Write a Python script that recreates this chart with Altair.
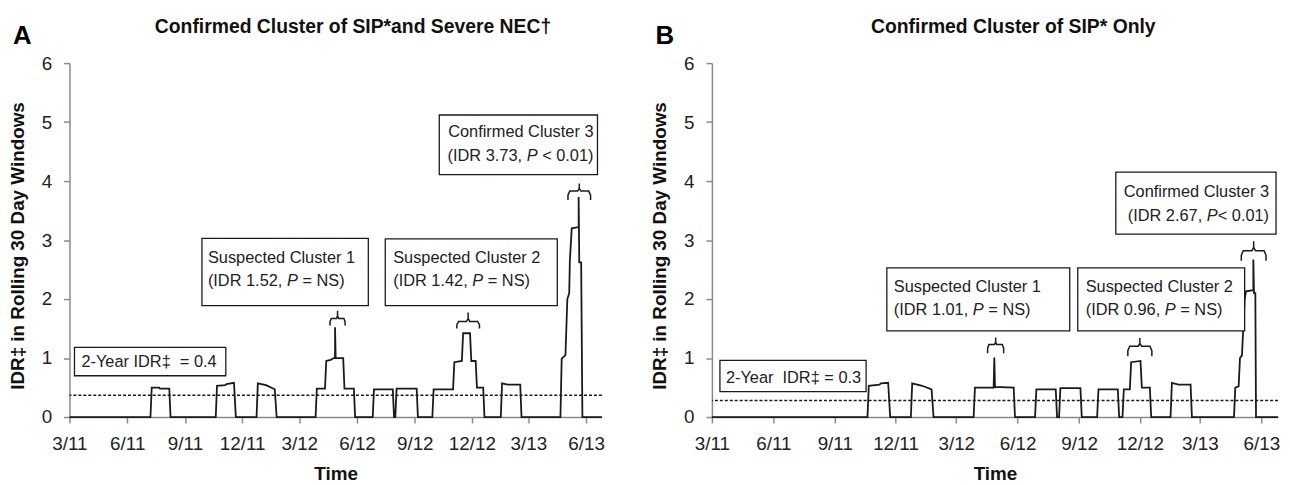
import altair as alt
import pandas as pd

FONT = "Liberation Sans"
INK = "#1a1a1a"

# ---------------- data ----------------
tick_months = [(2011, 3), (2011, 6), (2011, 9), (2011, 12), (2012, 3), (2012, 6),
               (2012, 9), (2012, 12), (2013, 3), (2013, 6)]
x_start = (2011, 3, 1)
x_end = (2013, 6, 26)

a_dates = ["2011-03-01",
           "2011-07-08", "2011-07-10", "2011-07-22", "2011-07-23", "2011-08-07", "2011-08-09",
           "2011-10-20", "2011-10-22", "2011-11-04", "2011-11-06", "2011-11-18", "2011-11-21",
           "2011-12-24", "2011-12-26", "2012-01-08", "2012-01-22", "2012-01-25",
           "2012-03-27", "2012-03-29", "2012-04-11", "2012-04-13", "2012-04-20", "2012-04-25",
           "2012-04-27", "2012-04-27", "2012-04-28", "2012-05-10", "2012-05-12", "2012-05-27", "2012-05-29",
           "2012-06-26", "2012-06-28", "2012-07-28", "2012-07-30", "2012-08-01", "2012-08-03", "2012-09-04", "2012-09-06",
           "2012-09-29", "2012-10-01", "2012-11-01", "2012-11-03", "2012-11-15", "2012-11-17", "2012-11-28",
           "2012-11-30", "2012-12-07", "2012-12-09", "2012-12-19", "2012-12-21",
           "2013-01-16", "2013-01-18", "2013-01-27", "2013-02-16", "2013-02-18",
           "2013-04-21", "2013-04-23", "2013-04-29", "2013-05-02", "2013-05-05", "2013-05-06", "2013-05-09",
           "2013-05-20", "2013-05-20", "2013-05-21", "2013-05-24", "2013-05-26",
           "2013-06-26"]
a_vals = [0,
          0, 0.50, 0.50, 0.48, 0.48, 0,
          0, 0.53, 0.54, 0.56, 0.58, 0,
          0, 0.57, 0.54, 0.47, 0,
          0, 0.48, 0.48, 0.95, 0.97, 1.0,
          1.0, 1.52, 1.0, 1.0, 0.48, 0.48, 0,
          0, 0.47, 0.47, 0, 0, 0.48, 0.48, 0,
          0, 0.47, 0.47, 0.93, 0.95, 1.42, 1.42,
          0.95, 0.95, 0.50, 0.50, 0,
          0, 0.57, 0.55, 0.55, 0,
          0, 0.99, 1.05, 2.0, 2.1, 2.65, 3.2,
          3.22, 3.73, 2.62, 2.62, 0,
          0]

b_dates = ["2011-03-01",
           "2011-10-20", "2011-10-22", "2011-11-07", "2011-11-09", "2011-11-20", "2011-11-23",
           "2011-12-24", "2011-12-26", "2012-01-10", "2012-01-24", "2012-01-27",
           "2012-03-27", "2012-03-29", "2012-04-26", "2012-04-27", "2012-04-28", "2012-05-26", "2012-05-28",
           "2012-06-27", "2012-06-29", "2012-07-28", "2012-07-30", "2012-08-02", "2012-08-04", "2012-09-03", "2012-09-05",
           "2012-09-28", "2012-09-30", "2012-10-29", "2012-10-31", "2012-11-05", "2012-11-07", "2012-11-16",
           "2012-11-18", "2012-12-02", "2012-12-04", "2012-12-16", "2012-12-18",
           "2013-01-16", "2013-01-18", "2013-01-28", "2013-02-15", "2013-02-17",
           "2013-04-21", "2013-04-23", "2013-04-28", "2013-04-30", "2013-05-03", "2013-05-07", "2013-05-09",
           "2013-05-20", "2013-05-20", "2013-05-21", "2013-05-23", "2013-05-24",
           "2013-06-26"]
b_vals = [0,
          0, 0.53, 0.55, 0.57, 0.58, 0,
          0, 0.57, 0.53, 0.47, 0,
          0, 0.50, 0.50, 1.01, 0.51, 0.50, 0,
          0, 0.47, 0.47, 0, 0, 0.49, 0.49, 0,
          0, 0.47, 0.47, 0, 0, 0.47, 0.47,
          0.93, 0.95, 0.50, 0.50, 0,
          0, 0.58, 0.55, 0.55, 0,
          0, 0.50, 0.52, 1.0, 1.05, 2.0, 2.13,
          2.15, 2.67, 2.1, 2.1, 0,
          0]

a_baseline = 0.37
b_baseline = 0.28

# annotation boxes
a_box_x0 = ["2011-03-09", "2011-09-28", "2012-07-16", "2012-10-10"]
a_box_x1 = ["2011-11-05", "2012-06-19", "2013-04-16", "2013-06-19"]
a_box_y0 = [0.70, 1.89, 1.89, 4.11]
a_box_y1 = [1.18, 3.03, 3.02, 5.12]

b_box_x0 = ["2011-03-13", "2011-11-18", "2012-08-30", "2012-10-26"]
b_box_x1 = ["2011-10-18", "2012-08-18", "2013-05-07", "2013-06-23"]
b_box_y0 = [0.43, 1.46, 1.46, 3.10]
b_box_y1 = [0.96, 2.53, 2.53, 4.15]

# annotation texts
a_line1 = ["2-Year IDR‡\u00a0 = 0.4", "Suspected Cluster 1", "Suspected Cluster 2", "Confirmed Cluster 3"]
a_line2 = [None,
           [("(IDR 1.52, ", False), ("P", True), (" = NS)", False)],
           [("(IDR 1.42, ", False), ("P", True), (" = NS)", False)],
           [("(IDR 3.73, ", False), ("P", True), (" < 0.01)", False)]]
a_text_y1 = [0.93, 2.69, 2.69, 4.83]
a_text_y2 = [None, 2.31, 2.31, 4.42]
a_text_dx = [7, 6, 8, -4]

b_line1 = ["2-Year\u00a0 IDR‡ = 0.3", "Suspected Cluster 1", "Suspected Cluster 2", "Confirmed Cluster 3"]
b_line2 = [None,
           [("(IDR 1.01, ", False), ("P", True), (" = NS)", False)],
           [("(IDR 0.96, ", False), ("P", True), (" = NS)", False)],
           [("(IDR 2.67, ", False), ("P", True), ("< 0.01)", False)]]
b_text_y1 = [0.66, 2.20, 2.20, 3.81]
b_text_y2 = [None, 1.82, 1.82, 3.40]
b_text_dx = [6, 7, 8, -7]
text_align = ["left", "left", "left", "right"]

# braces: start, end, bottom, top, tip
a_brace_x0 = ["2012-04-19", "2012-11-07", "2013-05-03"]
a_brace_x1 = ["2012-05-13", "2012-12-13", "2013-06-08"]
a_brace_bot = [1.55, 1.50, 3.68]
a_brace_top = [1.67, 1.62, 3.83]
a_brace_tip = [1.80, 1.77, 3.96]

b_brace_x0 = ["2012-04-17", "2012-11-13", "2013-05-02"]
b_brace_x1 = ["2012-05-11", "2012-12-19", "2013-06-08"]
b_brace_bot = [1.08, 1.03, 2.65]
b_brace_top = [1.23, 1.20, 2.82]
b_brace_tip = [1.35, 1.34, 2.98]

a_title = "Confirmed Cluster of SIP*and Severe NEC†"
b_title = "Confirmed Cluster of SIP* Only"
y_title = "IDR‡ in Rolling 30 Day Windows"

# ---------------- helpers ----------------
AW = {' ': 278, '(': 333, ')': 333, ',': 278, '.': 278, '<': 584, '=': 584, 'I': 278,
      'D': 722, 'R': 722, 'N': 722, 'S': 667, 'P': 667}
for d in "0123456789":
    AW[d] = 556


def tw(s, size):
    return sum(AW.get(c, 556) for c in s) * size / 1000.0


def dt(t):
    return alt.DateTime(year=t[0], month=t[1], date=t[2])


XSCALE = alt.Scale(domain=[dt(x_start), dt(x_end)])
XAXIS = alt.Axis(values=[alt.DateTime(year=y, month=m, date=1) for y, m in tick_months],
                 format="%-m/%y")
YSCALE = alt.Scale(domain=[0, 6], nice=False)
YAXIS = alt.Axis(values=[0, 1, 2, 3, 4, 5, 6], titleY=184)


def X(f):
    return alt.X(f"{f}:T", scale=XSCALE, axis=XAXIS, title="Time")


def Y(f):
    return alt.Y(f"{f}:Q", scale=YSCALE, axis=YAXIS, title=y_title)


TS = 16.5


def text_layer(date, val, txt, dx, italic=False, align="left"):
    df = pd.DataFrame({"d": [pd.Timestamp(date)], "v": [val], "t": [txt]})
    return alt.Chart(df).mark_text(
        align=align, baseline="middle", dx=dx, font=FONT, fontSize=TS,
        fontStyle="italic" if italic else "normal", color="#222"
    ).encode(x=X("d"), y=Y("v"), text="t:N")


def rich_layers(date, val, parts, dx, align):
    total = sum(tw(p, TS) for p, _ in parts)
    pos = dx - total if align == "right" else dx
    out = []
    for p, it in parts:
        lead = len(p) - len(p.lstrip(" "))
        out.append(text_layer(date, val, p.strip(" "), pos + tw(" " * lead, TS), it, "left"))
        pos += tw(p, TS)
    return out


def panel(letter, title, title_x, dates, vals, base, bx0, bx1, by0, by1,
          l1, l2, ty1, ty2, tdx, brx0, brx1, brb, brt, brp, width):
    series = pd.DataFrame({"d": pd.to_datetime(dates), "v": vals, "i": range(len(vals))})
    line = alt.Chart(series).mark_line(color=INK, strokeWidth=1.8, interpolate="linear").encode(
        x=X("d"), y=Y("v"), order=alt.Order("i:Q"))
    rule = alt.Chart(pd.DataFrame({"v": [base]})).mark_rule(
        color=INK, strokeWidth=1.5, strokeDash=[3, 2]).encode(y=Y("v"))
    boxes = pd.DataFrame({"x0": pd.to_datetime(bx0), "x1": pd.to_datetime(bx1), "y0": by0, "y1": by1})
    rects = alt.Chart(boxes).mark_rect(fill="white", stroke=INK, strokeWidth=1.3).encode(
        x=X("x0"), x2=alt.X2("x1:T"), y=Y("y0"), y2=alt.Y2("y1:Q"))
    # braces
    rows = []
    for k in range(len(brx0)):
        s = pd.Timestamp(brx0[k])
        e = pd.Timestamp(brx1[k])
        w = e - s
        m = s + w / 2
        bot, top, tip = brb[k], brt[k], brp[k]
        pts = [(s, bot), (s, bot + (top - bot) * 0.55), (s + w * 0.08, top),
               (m - w * 0.07, top), (m, top + (tip - top) * 0.35), (m, tip),
               (m, top + (tip - top) * 0.35), (m + w * 0.07, top),
               (e - w * 0.08, top), (e, bot + (top - bot) * 0.55), (e, bot)]
        for j, (pd_, pv) in enumerate(pts):
            rows.append({"b": k, "i": j, "d": pd_, "v": pv})
    brace = alt.Chart(pd.DataFrame(rows)).mark_line(color=INK, strokeWidth=1.5).encode(
        x=X("d"), y=Y("v"), detail="b:N", order=alt.Order("i:Q"))

    layers = [rule, line, rects, brace]
    for k in range(len(l1)):
        al = text_align[k]
        anchor = bx1[k] if al == "right" else bx0[k]
        layers.append(text_layer(anchor, ty1[k], l1[k], tdx[k], False, al))
        if l2[k] is not None:
            layers += rich_layers(anchor, ty2[k], l2[k], tdx[k], al)

    lab = alt.Chart(pd.DataFrame({"t": [letter]})).mark_text(
        align="left", baseline="alphabetic", font=FONT, fontSize=26, fontWeight="bold", color="#000"
    ).encode(x=alt.value(-57), y=alt.value(-19), text="t:N")
    ttl = alt.Chart(pd.DataFrame({"t": [title]})).mark_text(
        align="center", baseline="alphabetic", font=FONT, fontSize=19.5, fontWeight="bold", color="#111"
    ).encode(x=alt.value(title_x), y=alt.value(-30.7), text="t:N")
    layers += [lab, ttl]
    return alt.layer(*layers).properties(width=width, height=357)


chart_a = panel("A", a_title, 286, a_dates, a_vals, a_baseline, a_box_x0, a_box_x1, a_box_y0, a_box_y1,
                a_line1, a_line2, a_text_y1, a_text_y2, a_text_dx,
                a_brace_x0, a_brace_x1, a_brace_bot, a_brace_top, a_brace_tip, 537)
chart_b = panel("B", b_title, 304, b_dates, b_vals, b_baseline, b_box_x0, b_box_x1, b_box_y0, b_box_y1,
                b_line1, b_line2, b_text_y1, b_text_y2, b_text_dx,
                b_brace_x0, b_brace_x1, b_brace_bot, b_brace_top, b_brace_tip, 571)

chart = alt.hconcat(chart_a, chart_b, spacing=45).properties(
    padding={"left": 0, "right": 0, "top": 6.5, "bottom": 0}
).configure_view(stroke=None).configure_axis(
    grid=False, domainColor="#8a8a8a", tickColor="#8a8a8a", domainWidth=1.5, tickWidth=1.5,
    tickSize=6, labelFont=FONT, titleFont=FONT, labelFontSize=19, titleFontSize=19,
    titleFontWeight="bold", labelColor="#222", titleColor="#111"
).configure_axisX(labelPadding=12, titlePadding=11, labelFlush=False
).configure_axisY(labelPadding=12, titlePadding=14)

chart.save("out.html", embed_options={"renderer": "svg", "actions": False})
